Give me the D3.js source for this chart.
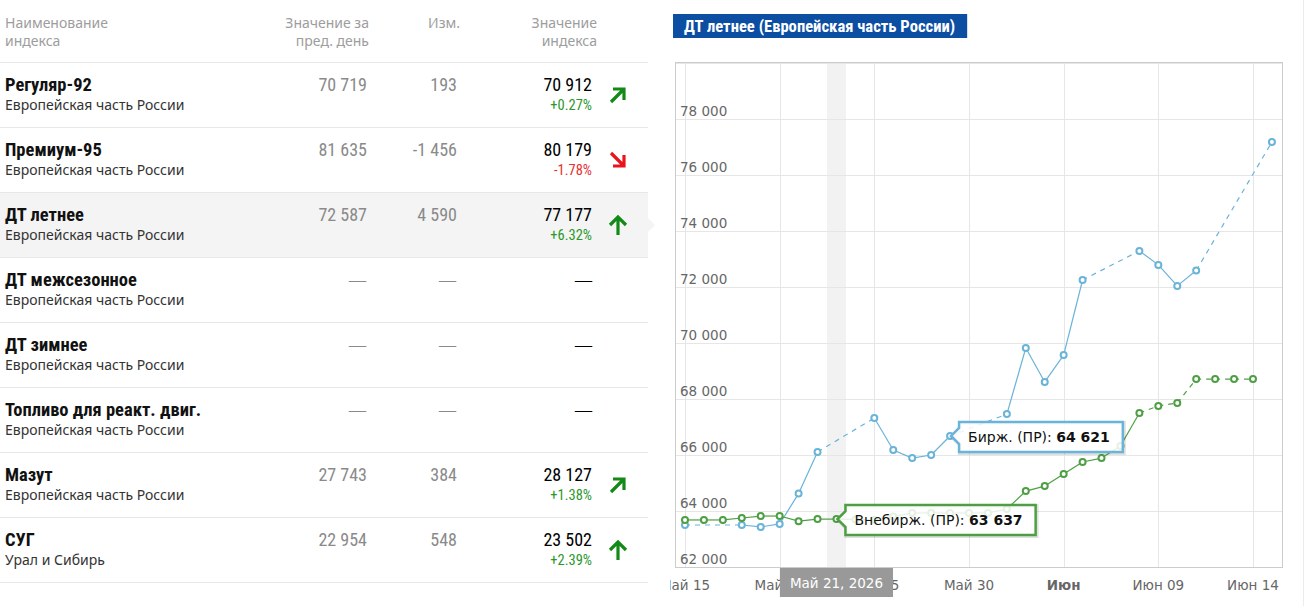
<!DOCTYPE html>
<html><head><meta charset="utf-8">
<script src="https://cdn.jsdelivr.net/npm/d3@7"></script>
<style>
html,body{margin:0;padding:0;background:#fff;}
svg{display:block;}
</style></head><body>
<svg id="c" width="1310" height="606"></svg>
<script>
// ---------- table data ----------
const indexNames = ["Регуляр-92","Премиум-95","ДТ летнее","ДТ межсезонное","ДТ зимнее","Топливо для реакт. двиг.","Мазут","СУГ"];
const indexRegions = ["Европейская часть России","Европейская часть России","Европейская часть России","Европейская часть России","Европейская часть России","Европейская часть России","Европейская часть России","Урал и Сибирь"];
const prevDayValues = [70719, 81635, 72587, null, null, null, 27743, 22954];
const dayChanges = [193, -1456, 4590, null, null, null, 384, 548];
const indexValues = [70912, 80179, 77177, null, null, null, 28127, 23502];
const changePercents = [0.27, -1.78, 6.32, null, null, null, 1.38, 2.39];
const trendDirections = ["upright","downright","up",null,null,null,"upright","up"];
const selectedRow = 2;
const headerCols = [["Наименование","индекса"],["Значение за","пред. день"],["Изм."],["Значение","индекса"]];

// ---------- chart data (day 0 = Май 15, 2026) ----------
const chartTitle = "ДТ летнее (Европейская часть России)";
const birzhName = "Бирж. (ПР)";
const birzhDays   = [0,3,4,5,6,7,10,11,12,13,14,17,18,19,20,21,24,25,26,27,31];
const birzhValues = [63500,63500,63430,63540,64621,66110,67320,66180,65890,66000,66680,67460,69820,68610,69570,72250,73290,72790,72040,72587,77177];
const vnebirzhName = "Внебирж. (ПР)";
const vnebirzhDays   = [0,1,2,3,4,5,6,7,8,9,10,11,12,13,14,15,16,17,18,19,20,21,22,23,24,25,26,27,28,29,30];
const vnebirzhValues = [63680,63680,63680,63750,63820,63820,63637,63710,63710,63700,63680,63800,63930,63930,63930,63930,63930,64070,64710,64890,65320,65750,65890,66320,67500,67750,67860,68710,68710,68710,68710];
const vnebirzhDashedFromDay = 24;
const xTickDays = [0,5,10,15,20,25,30];
const xTickLabels = ["Май 15","Май 20","Май 25","Май 30","Июн","Июн 09","Июн 14"];
const xTickBold = [false,false,false,false,true,false,false];
const yTickValues = [62000,64000,66000,68000,70000,72000,74000,76000,78000];
const hoverDay = 6;
const hoverLabel = "Май 21, 2026";
const crosshairDay = 8;
const birzhTooltipDay = 14;
const vnebirzhTooltipDay = 8;

// ---------- helpers ----------
const loc = d3.formatLocale({decimal:".", thousands:" ", grouping:[3], currency:["",""], minus:"-"});
const fmtInt = loc.format(",d");
const fmtPct = v => (v > 0 ? "+" : "") + loc.format(".2f")(v) + "%";

const svg = d3.select("#c");
const NARROW = "'Liberation Sans Narrow','Arial Narrow','Roboto Condensed',sans-serif";
const SANS = "'Noto Sans','Open Sans',sans-serif";
const CH = "'DejaVu Sans',Verdana,sans-serif";

// ---------- table ----------
const tableW = 648, headerH = 62, rowH = 65;
const rowY = d3.scaleLinear().domain([0,1]).range([headerH, headerH+rowH]);
const colRight = [null, 367, 457, 592];
const headRight = [5, 369, 460, 597];

const tg = svg.append("g");
tg.append("rect").attr("x",0).attr("y",rowY(selectedRow)+1).attr("width",tableW).attr("height",rowH-1).attr("fill","#f4f4f4");
tg.append("path").attr("d",`M${tableW},${rowY(selectedRow)+26}L${tableW+7},${rowY(selectedRow)+33}L${tableW},${rowY(selectedRow)+40}Z`).attr("fill","#f4f4f4");

headerCols.forEach((lines,i)=>{
  lines.forEach((t,j)=>{
    tg.append("text").attr("x",headRight[i]).attr("y",28+j*18)
      .attr("text-anchor", i===0?"start":"end")
      .attr("font-family",SANS).attr("font-size",14).attr("fill","#9d9d9d").text(t);
  });
});
d3.range(indexNames.length+1).forEach(i=>{
  tg.append("line").attr("x1",0).attr("x2",tableW).attr("y1",rowY(i)+0.5).attr("y2",rowY(i)+0.5)
    .attr("stroke","#e8e8e8").attr("stroke-width",1);
});

indexNames.forEach((name,i)=>{
  const top = rowY(i);
  tg.append("text").attr("x",5).attr("y",top+29).attr("font-family",NARROW).attr("font-weight","bold")
    .attr("font-size",18.5).attr("fill","#111").text(name);
  tg.append("text").attr("x",5).attr("y",top+48).attr("font-family",SANS)
    .attr("font-size",14).attr("fill","#333").text(indexRegions[i]);
  const cells = [prevDayValues[i], dayChanges[i], indexValues[i]];
  cells.forEach((v,k)=>{
    const t = tg.append("text").attr("x",colRight[k+1] + (v===null && k===2 ? 1 : 0)).attr("y",top+29).attr("text-anchor","end")
      .attr("fill", k===2 ? "#000" : "#8a8a8a");
    if (v===null) t.attr("font-family",SANS).attr("font-size",19).attr("font-weight","300").text("—");
    else t.attr("font-family",NARROW).attr("font-size",18).text(fmtInt(v));
  });
  if (changePercents[i] !== null) {
    tg.append("text").attr("x",colRight[3]).attr("y",top+48).attr("text-anchor","end")
      .attr("font-family",NARROW).attr("font-size",14.5)
      .attr("fill", changePercents[i] >= 0 ? "#2a982a" : "#e53030")
      .text(fmtPct(changePercents[i]));
  }
  const dir = trendDirections[i];
  if (dir) {
    const cx = 618, cy = top+33;
    const col = dir === "downright" ? "#e8151c" : "#138a17";
    let d;
    if (dir === "upright") d = `M${cx-7},${cy+7}L${cx+6},${cy-6}M${cx-5},${cy-6}H${cx+6}V${cy+5}`;
    else if (dir === "downright") d = `M${cx-7},${cy-7}L${cx+6},${cy+6}M${cx-5},${cy+6}H${cx+6}V${cy-5}`;
    else d = `M${cx},${cy+10}V${cy-8}M${cx-8},${cy}L${cx},${cy-8}L${cx+8},${cy}`;
    tg.append("path").attr("d",d).attr("fill","none").attr("stroke",col).attr("stroke-width",3.2)
      .attr("stroke-linecap","butt").attr("stroke-linejoin","miter");
  }
});

// ---------- chart ----------
const plot = {left:675, right:1282, top:62, bottom:567};
const x = d3.scaleLinear().domain([0,31]).range([685, 685 + 31*18.933]);
const y = d3.scaleLinear().domain([62000,80000]).range([567, 63]);
const BLUE = "#6ab3d9", GREEN = "#4e9e43";

svg.append("defs").append("clipPath").attr("id","chartClip")
  .append("rect").attr("x",670).attr("y",0).attr("width",640).attr("height",606);
const cg = svg.append("g").attr("clip-path","url(#chartClip)");
cg.append("line").attr("x1",1303.5).attr("x2",1303.5).attr("y1",0).attr("y2",606).attr("stroke","#ececec");

// title
const titleG = cg.append("g");
const titleText = titleG.append("text").attr("x",684).attr("y",32).attr("font-family",NARROW)
  .attr("font-weight","bold").attr("font-size",16.6).attr("fill","#fff").text(chartTitle);
const tw = titleText.node().getComputedTextLength();
titleG.insert("rect","text").attr("x",673).attr("y",14).attr("width",tw+23).attr("height",24).attr("fill","#0b4ea2");

// crosshair band
cg.append("rect").attr("x",x(crosshairDay)-9.5).attr("y",plot.top).attr("width",19).attr("height",plot.bottom-plot.top).attr("fill","#f2f2f2");

// grid
cg.append("g").selectAll("line").data(yTickValues.concat([80000])).join("line")
  .attr("x1",plot.left).attr("x2",plot.right).attr("y1",d=>Math.round(y(d))+0.5).attr("y2",d=>Math.round(y(d))+0.5)
  .attr("stroke","#e6e6e6");
cg.append("g").selectAll("line").data(xTickDays).join("line")
  .attr("y1",plot.top).attr("y2",plot.bottom).attr("x1",d=>Math.round(x(d))+0.5).attr("x2",d=>Math.round(x(d))+0.5)
  .attr("stroke","#e6e6e6");
cg.append("rect").attr("x",plot.left+0.5).attr("y",plot.top+0.5).attr("width",plot.right-plot.left).attr("height",plot.bottom-plot.top)
  .attr("fill","none").attr("stroke","#cccccc");

// y labels
cg.append("g").selectAll("text").data(yTickValues).join("text")
  .attr("x",680).attr("y",d=>y(d)-3).attr("font-family",CH).attr("font-size",13.5).attr("fill","#666")
  .text(d=>fmtInt(d));
// x labels
cg.append("g").selectAll("text").data(xTickDays).join("text")
  .attr("x",d=>x(d)).attr("y",590).attr("text-anchor","middle").attr("font-family",CH).attr("font-size",13.5)
  .attr("font-weight",(d,i)=>xTickBold[i]?"bold":"normal").attr("fill","#666")
  .text((d,i)=>xTickLabels[i]);

// series
function drawSeries(days, vals, color, dashTest) {
  const g = cg.append("g");
  for (let i=1;i<days.length;i++){
    const dashed = dashTest(days[i-1], days[i]);
    g.append("line").attr("x1",x(days[i-1])).attr("y1",y(vals[i-1])).attr("x2",x(days[i])).attr("y2",y(vals[i]))
      .attr("stroke",color).attr("stroke-width",1.2).attr("stroke-dasharray",dashed?"5,5":null);
  }
  g.selectAll("circle").data(days).join("circle")
    .attr("cx",d=>x(d)).attr("cy",(d,i)=>y(vals[i])).attr("r",3)
    .attr("fill","#fff").attr("stroke",color).attr("stroke-width",2);
}
drawSeries(birzhDays, birzhValues, BLUE, (a,b)=> b-a>1);
drawSeries(vnebirzhDays, vnebirzhValues, GREEN, (a,b)=> a>=vnebirzhDashedFromDay);

// tooltips
function tooltip(day, days, vals, color, label, value) {
  const px = x(day), py = y(vals[days.indexOf(day)]);
  const g = cg.append("g");
  const left = px + 9, top = py - 14, h = 30, tipX = px + 1;
  const t = g.append("text").attr("x",left+9).attr("y",top+20).attr("font-family",CH).attr("font-size",14).attr("fill","#111");
  t.append("tspan").text(label + ": ");
  t.append("tspan").attr("font-weight","bold").text(fmtInt(value));
  const w = t.node().getComputedTextLength() + 22;
  const d = `M${left},${top}H${left+w}V${top+h}H${left}V${py+8}L${tipX},${py}L${left},${py-8}Z`;
  g.insert("path","text").attr("d",d).attr("transform","translate(1,1)").attr("fill","none").attr("stroke","rgba(0,0,0,0.12)").attr("stroke-width",4);
  g.insert("path","text").attr("d",d).attr("fill","rgba(255,255,255,0.85)").attr("stroke",color).attr("stroke-width",2.5);
}
tooltip(birzhTooltipDay, birzhDays, birzhValues, BLUE, birzhName, birzhValues[birzhDays.indexOf(hoverDay)]);
tooltip(vnebirzhTooltipDay, vnebirzhDays, vnebirzhValues, GREEN, vnebirzhName, vnebirzhValues[vnebirzhDays.indexOf(hoverDay)]);

// date header label
const hg = cg.append("g");
const ht = hg.append("text").attr("x",x(crosshairDay)).attr("y",588).attr("text-anchor","middle")
  .attr("font-family",CH).attr("font-size",13.5).attr("fill","#fff").text(hoverLabel);
const hw = ht.node().getComputedTextLength() + 20;
hg.insert("rect","text").attr("x",x(crosshairDay)-hw/2).attr("y",568).attr("width",hw).attr("height",29).attr("fill","#999");
</script>
</body></html>
